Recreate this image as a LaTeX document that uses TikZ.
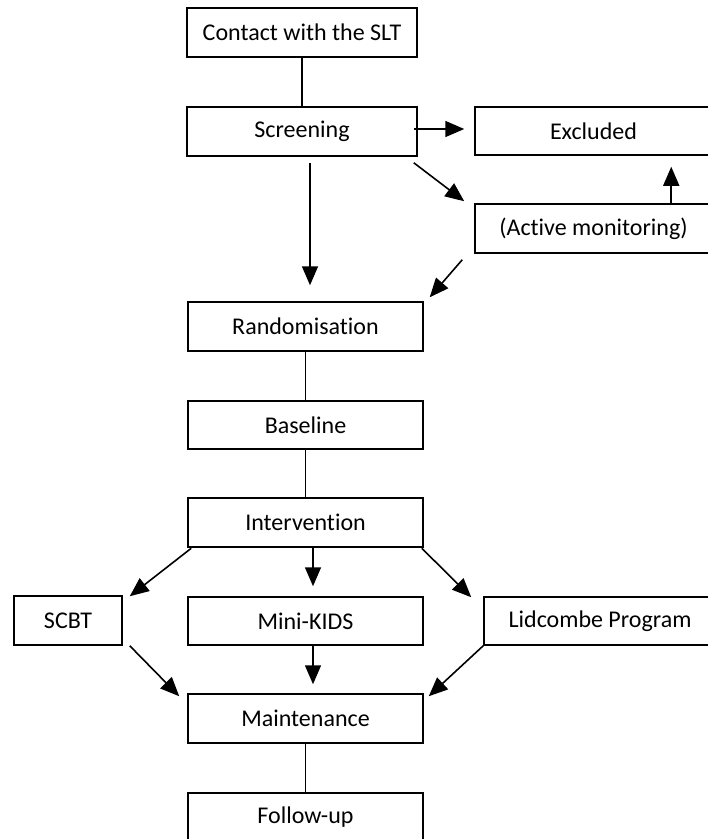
\documentclass[tikz,border=0pt]{standalone}
\usepackage{fontspec}
\setmainfont{Carlito}[RawFeature={-liga;-dlig;-clig}]
\usetikzlibrary{arrows.meta,calc}
\begin{document}
\begin{tikzpicture}[x=1pt,y=-1pt,
  box/.style={draw=black,line width=1.5pt,rectangle,inner sep=0pt,
    font=\fontsize{24}{28}\selectfont,text=black},
  link/.style={draw=black,line width=1.6pt},
  arr/.style={draw=black,line width=1.6pt,-{Triangle[length=19pt,width=16pt]}}]
\fill[white] (0,0) rectangle (708,839);
\clip (0,0) rectangle (708,839);
% boxes
\node[box,minimum width=230pt,minimum height=49pt] (contact) at (302,32.5) {Contact with the SLT};
\node[box,minimum width=230pt,minimum height=49pt] (scr) at (302,131.5) {Screening};
\node[box,minimum width=237pt,minimum height=48pt] (excl) at (593.5,131) {Excluded};
\node[box,minimum width=237pt,minimum height=49pt] (act) at (593.5,228.5) {(Active monitoring)};
\node[box,minimum width=235pt,minimum height=49pt] (rand) at (305.5,326.5) {Randomisation};
\node[box,minimum width=235pt,minimum height=48pt] (base) at (305.5,425) {Baseline};
\node[box,minimum width=235pt,minimum height=49pt] (interv) at (305.5,522.5) {Intervention};
\node[box,minimum width=108pt,minimum height=49pt] (scbt) at (68,620.5) {SCBT};
\node[box,minimum width=235pt,minimum height=48pt] (mini) at (305.5,621) {Mini-KIDS};
\node[box,minimum width=232pt,minimum height=48pt] (lid) at (600,621) {Lidcombe Program};
\node[box,minimum width=235pt,minimum height=49pt] (maint) at (305.5,718.5) {Maintenance};
\node[box,minimum width=235pt,minimum height=49pt] (follow) at (305.5,817.5) {Follow-up};
% plain links
\draw[link] (contact.south) -- (scr.north);
\draw[link] (rand.south) -- (base.north);
\draw[link] (base.south) -- (interv.north);
\draw[link] (maint.south) -- (follow.north);
% arrows
\draw[arr] ($(scr.east)+(-4,-2.5)$) -- ($(excl.west)+(-10,-2)$);
\draw[arr] ($(scr.south east)+(-4,6)$) -- ($(act.north west)+(-10,-2)$);
\draw[arr] ($(act.north west)+(197,0)$) -- ($(excl.south west)+(197,11)$);
\draw[arr] ($(scr.south)+(8,6)$) -- ($(rand.north)+(4.5,-16)$);
\draw[arr] ($(act.south west)+(-12,6)$) -- ($(rand.north east)+(6,-4)$);
\draw[arr] ($(interv.south west)+(4,0.5)$) -- ($(scbt.north east)+(7,1)$);
\draw[arr] ($(interv.south)+(7.5,0.5)$) -- ($(mini.north)+(7.5,-10)$);
\draw[arr] ($(interv.south east)+(-2,0.5)$) -- ($(lid.north west)+(-12,1)$);
\draw[arr] ($(scbt.south east)+(7,0)$) -- ($(maint.north west)+(-8,3)$);
\draw[arr] ($(mini.south)+(7.5,0)$) -- ($(maint.north)+(7.5,-9)$);
\draw[arr] ($(lid.south west)+(0,0)$) -- ($(maint.north east)+(5,3)$);
\end{tikzpicture}
\end{document}
